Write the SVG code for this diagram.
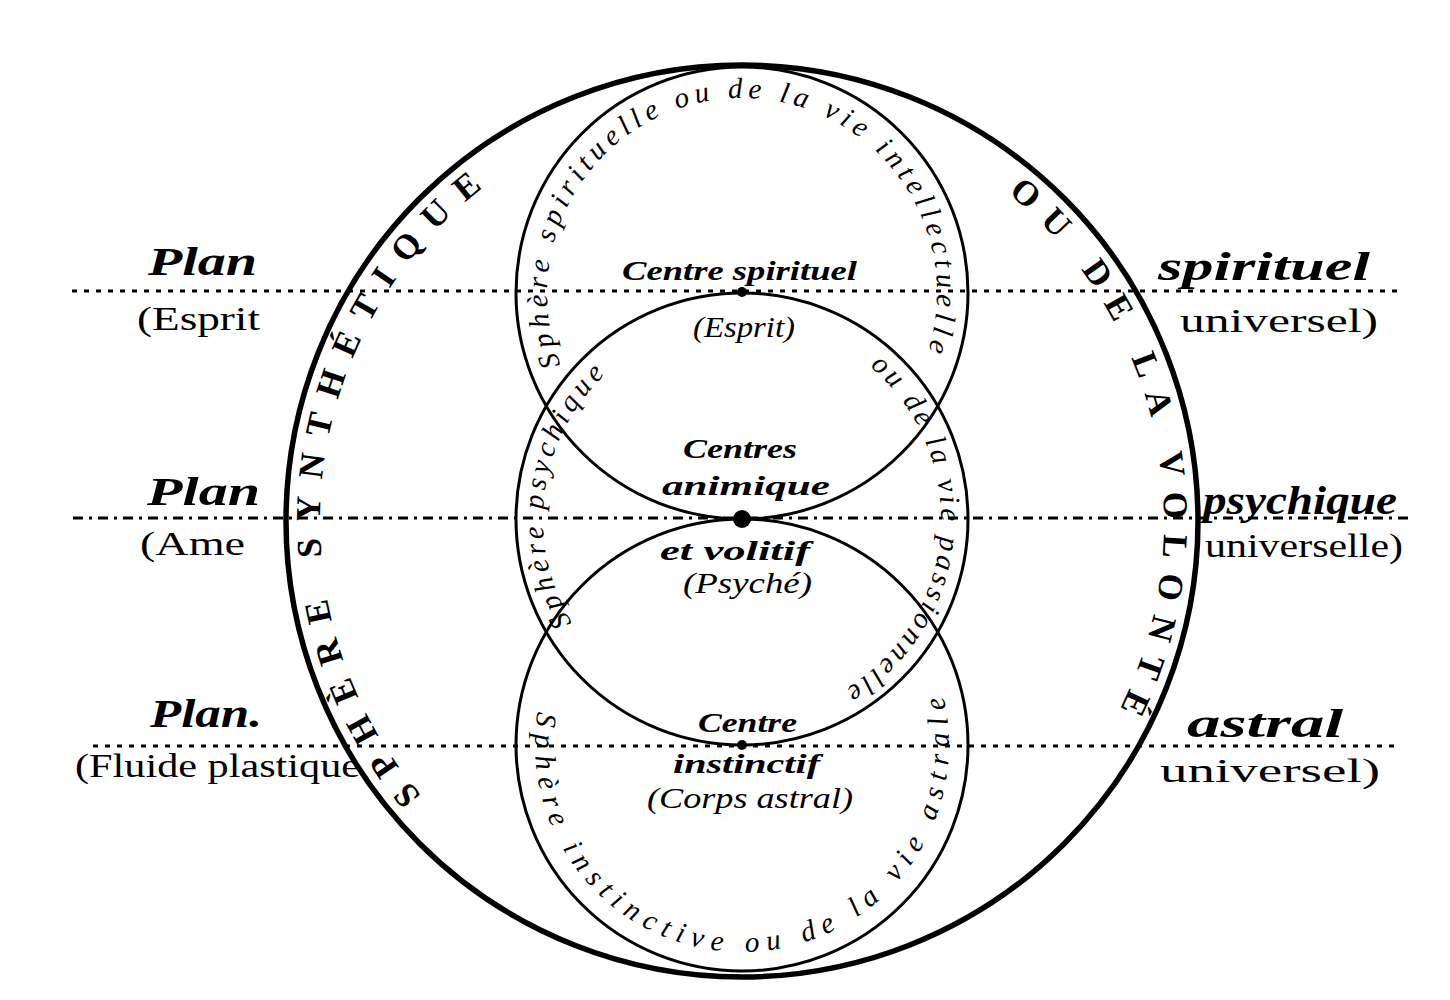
<svg xmlns="http://www.w3.org/2000/svg" width="1450" height="1000" viewBox="0 0 1450 1000">
<style>
 .ring{fill:none;stroke:#000;stroke-width:3}
 .outer{fill:none;stroke:#000;stroke-width:5.5}
 .plane{fill:none;stroke:#000;stroke-width:3;stroke-dasharray:5 7}
 .plane2{stroke-dasharray:10 6 3 6}
 .t{font-family:"Liberation Serif",serif;fill:#000}
 .big{font-size:40px;font-style:italic;font-weight:bold}
 .sub{font-size:33px}
 .ctr{font-size:28px;font-style:italic;font-weight:bold}
 .arc{font-size:29px;font-style:italic}
 .caps{font-size:35px;font-weight:bold}
 .dot{fill:#000}
</style>
<defs>
 <path id="pOuter" d="M742,943 A422,422 0 1 1 742,99 A422,422 0 1 1 742,943"/>
 <path id="pTop" d="M742,488 A195,195 0 1 1 742,98 A195,195 0 1 1 742,488"/>
 <path id="pMid" d="M742,718 A199,199 0 1 1 742,320 A199,199 0 1 1 742,718"/>
 <path id="pBot" d="M742,538 A207,207 0 1 0 742,952 A207,207 0 1 0 742,538"/>
</defs>
<rect width="1450" height="1000" fill="#fff"/>

<g id="connectors">
 <line class="plane" x1="72" y1="291" x2="1403" y2="291"/>
 <line class="plane plane2" x1="73" y1="518" x2="1411" y2="518"/>
 <line class="plane" x1="93" y1="746" x2="1394" y2="746"/>
</g>

<g id="sphere-synthetique">
 <circle class="outer" cx="742" cy="521" r="456"/>
 <text class="t caps"><textPath href="#pOuter" startOffset="26.6%" text-anchor="middle" textLength="683" lengthAdjust="spacing">SPHÈRE SYNTHÉTIQUE</textPath></text>
 <text class="t caps"><textPath href="#pOuter" startOffset="71.6%" text-anchor="middle" textLength="570" lengthAdjust="spacing">OU DE LA VOLONTÉ</textPath></text>
</g>

<g id="sphere-spirituelle">
 <circle class="ring" cx="742" cy="293" r="226"/>
 <text class="t arc"><textPath href="#pTop" startOffset="49.4%" text-anchor="middle" textLength="745" lengthAdjust="spacing">Sphère spirituelle ou de la vie intellectuelle</textPath></text>
</g>

<g id="sphere-psychique">
 <circle class="ring" cx="742" cy="519" r="226"/>
 <text class="t arc"><textPath href="#pMid" startOffset="27.1%" text-anchor="middle" textLength="271" lengthAdjust="spacing">Sphère psychique</textPath></text>
 <text class="t arc"><textPath href="#pMid" startOffset="76.2%" text-anchor="middle" textLength="378" lengthAdjust="spacing">ou de la vie passionnelle</textPath></text>
</g>

<g id="sphere-instinctive">
 <circle class="ring" cx="742" cy="745" r="226"/>
 <text class="t arc"><textPath href="#pBot" startOffset="50.6%" text-anchor="middle" textLength="733" lengthAdjust="spacing">Sphère instinctive ou de la vie astrale</textPath></text>
</g>

<g id="centre-spirituel">
 <circle class="dot" cx="742" cy="292" r="5"/>
 <text class="t ctr" x="622" y="280" textLength="235" lengthAdjust="spacingAndGlyphs">Centre spirituel</text>
 <text class="t arc" x="693" y="337" textLength="102" lengthAdjust="spacingAndGlyphs">(Esprit)</text>
</g>

<g id="centre-animique">
 <circle class="dot" cx="742" cy="519" r="9"/>
 <text class="t ctr" x="683" y="458" textLength="114" lengthAdjust="spacingAndGlyphs">Centres</text>
 <text class="t ctr" x="662" y="495" textLength="168" lengthAdjust="spacingAndGlyphs">animique</text>
 <text class="t ctr" x="660" y="560" textLength="150" lengthAdjust="spacingAndGlyphs">et volitif</text>
 <text class="t arc" x="683" y="593" textLength="129" lengthAdjust="spacingAndGlyphs">(Psyché)</text>
</g>

<g id="centre-instinctif">
 <circle class="dot" cx="742" cy="745" r="5"/>
 <text class="t ctr" x="698" y="732" textLength="99" lengthAdjust="spacingAndGlyphs">Centre</text>
 <text class="t ctr" x="673" y="773" textLength="147" lengthAdjust="spacingAndGlyphs">instinctif</text>
 <text class="t arc" x="647" y="808" textLength="206" lengthAdjust="spacingAndGlyphs">(Corps astral)</text>
</g>

<g id="plan-spirituel">
 <text class="t big" x="148" y="275" textLength="109" lengthAdjust="spacingAndGlyphs">Plan</text>
 <text class="t sub" x="137" y="330" textLength="123" lengthAdjust="spacingAndGlyphs">(Esprit</text>
 <text class="t big" x="1158" y="280" textLength="212" lengthAdjust="spacingAndGlyphs">spirituel</text>
 <text class="t sub" x="1180" y="332" textLength="198" lengthAdjust="spacingAndGlyphs">universel)</text>
</g>

<g id="plan-psychique">
 <text class="t big" x="147" y="505" textLength="113" lengthAdjust="spacingAndGlyphs">Plan</text>
 <text class="t sub" x="140" y="555" textLength="105" lengthAdjust="spacingAndGlyphs">(Ame</text>
 <text class="t big" x="1203" y="514" textLength="194" lengthAdjust="spacingAndGlyphs">psychique</text>
 <text class="t sub" x="1205" y="557" textLength="198" lengthAdjust="spacingAndGlyphs">universelle)</text>
</g>

<g id="plan-astral">
 <text class="t big" x="150" y="727" textLength="112" lengthAdjust="spacingAndGlyphs">Plan.</text>
 <text class="t sub" x="75" y="777" textLength="285" lengthAdjust="spacingAndGlyphs">(Fluide plastique</text>
 <text class="t big" x="1187" y="737" textLength="156" lengthAdjust="spacingAndGlyphs">astral</text>
 <text class="t sub" x="1160" y="782" textLength="220" lengthAdjust="spacingAndGlyphs">universel)</text>
</g>
</svg>
